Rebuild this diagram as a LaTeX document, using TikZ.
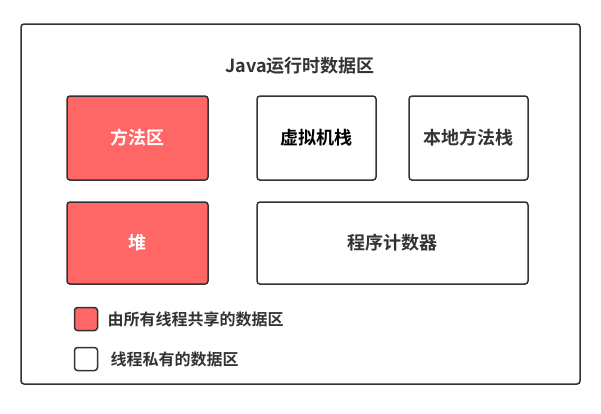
\documentclass[tikz,border=0pt]{standalone}
\usepackage{fontspec}
\usepackage{tikz}
\newfontfamily\cjk{Noto Sans CJK SC}[BoldFont={Noto Sans CJK SC Bold}]
\definecolor{areared}{HTML}{FF6666}
\definecolor{linegray}{HTML}{333333}

\begin{document}
\begin{tikzpicture}[x=1pt, y=-1pt, font=\cjk\bfseries,
    area/.style={draw=linegray, line width=1.5pt, rounded corners=3pt, text=linegray, font=\cjk\bfseries\fontsize{18}{20}\selectfont},
    shared/.style={area, fill=areared, text=white},
    legendbox/.style={draw=linegray, line width=1.5pt, rounded corners=3pt, minimum size=23pt, inner sep=0pt},
    legendtext/.style={anchor=west, text=linegray, font=\cjk\bfseries\fontsize{16}{18}\selectfont}]
    \useasboundingbox (0,0) rectangle (601,413);

    \draw[linegray, line width=1.5pt, rounded corners=3pt] (21,24) rectangle (580,384);
    \node[text=linegray, font=\cjk\bfseries\fontsize{18}{20}\selectfont] (title) at (300,66) {Java运行时数据区};

    % obere Reihe
    \node[shared, minimum width=141pt, minimum height=84pt] (method) at (137.5,138) {方法区};
    \node[area, minimum width=119pt, minimum height=84pt, text=black] (vmstack) at (316.5,138) {虚拟机栈};
    \node[area, minimum width=119pt, minimum height=84pt] (nativestack) at (468.5,138) {本地方法栈};

    % untere Reihe
    \node[shared, minimum width=141pt, minimum height=82pt] (heap) at (137.5,243) {堆};
    \node[area, minimum width=271pt, minimum height=82pt] (pc) at (392.5,243) {程序计数器};

    % Legende
    \node[legendbox, fill=areared] (keyshared) at (86,319) {};
    \node[legendtext] (keysharedtext) at (104,319) {由所有线程共享的数据区};
    \node[legendbox, fill=white] (keyprivate) at (86,359) {};
    \node[legendtext] (keyprivatetext) at (107,359) {线程私有的数据区};
\end{tikzpicture}
\end{document}
